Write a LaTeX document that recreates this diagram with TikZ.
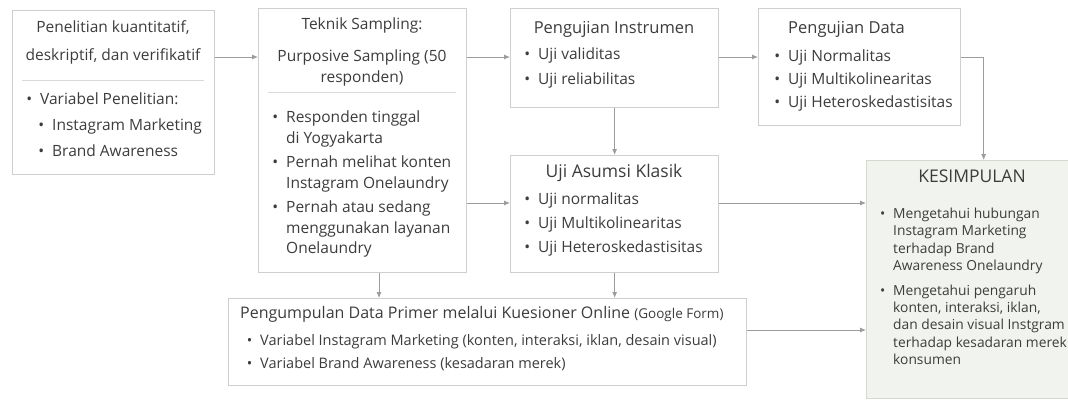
\documentclass[tikz,border=0pt]{standalone}
\usepackage{fontspec}
\setmainfont{Open Sans}
\usetikzlibrary{positioning,arrows.meta}

\definecolor{linegray}{HTML}{CFCFCF}
\definecolor{txtgray}{HTML}{3C3C3C}
\definecolor{arrgray}{HTML}{9C9C9C}
\definecolor{kesfill}{HTML}{F1F4EE}
\definecolor{kesline}{HTML}{D3D9CE}

\newcommand{\bt}{\llap{\textbullet\hspace{8pt}}}

\begin{document}
\begin{tikzpicture}[x=1pt,y=-1pt,
    box/.style={draw=linegray,line width=1.3pt,anchor=north west,inner sep=0pt},
    txt/.style={text=txtgray,inner sep=0pt,font=\fontsize{15.5}{20.5}\selectfont},
    head/.style={txt,align=center,anchor=north,font=\fontsize{16.5}{20.5}\selectfont},
    body/.style={txt,align=left,anchor=north west},
    arr/.style={draw=arrgray,line width=0.8pt,-{Latex[length=6pt,width=5pt]}},
    divider/.style={draw=linegray!80,line width=1pt}]

    \useasboundingbox (0,0) rectangle (1068,400);
    \clip (0,0) rectangle (1068,400);

    % kotak-kotak
    \node[box,minimum width=202pt,minimum height=164pt] (b1) at (12,10) {};
    \node[box,minimum width=208pt,minimum height=264pt] (b2) at (258,8) {};
    \node[box,minimum width=208pt,minimum height=99pt] (b3) at (510,8) {};
    \node[box,minimum width=202pt,minimum height=117pt] (b4) at (758,8) {};
    \node[box,minimum width=208pt,minimum height=117pt] (b5) at (510,155) {};
    \node[box,minimum width=518pt,minimum height=87pt] (b6) at (228,298) {};
    \node[box,draw=kesline,fill=kesfill,minimum width=234pt,minimum height=238pt] (b7) at (866,160) {};

    \draw[divider] (22,80) -- (204,80);
    \draw[divider] (268,92) -- (456,92);

    % isi
    \node[head,font=\fontsize{15.5}{20.5}\selectfont] (t1) at (113,20) {Penelitian kuantitatif,\\[7.5pt]deskriptif, dan verifikatif};
    \node[body] (i1) at (40,93) {\bt Variabel Penelitian:\\[5.5pt]\hspace*{12pt}\bt Instagram Marketing\\[5.5pt]\hspace*{12pt}\bt Brand Awareness};

    \node[head,font=\fontsize{15.5}{20.5}\selectfont] (t2) at (362,18) {Teknik Sampling:\\[11.5pt]Purposive Sampling (50\\responden)};
    \node[body] (i2) at (286,111) {\bt Responden tinggal\\di Yogyakarta\\[4pt]\bt Pernah melihat konten\\Instagram Onelaundry\\[4pt]\bt Pernah atau sedang\\menggunakan layanan\\Onelaundry};

    \node[head] (t3) at (614,21) {Pengujian Instrumen};
    \node[body] (i3) at (538,48) {\bt Uji validitas\\[4.5pt]\bt Uji reliabilitas};

    \node[head,anchor=north west] (t4) at (788,21) {Pengujian Data};
    \node[body] (i4) at (788,50) {\bt Uji Normalitas\\[2.5pt]\bt Uji Multikolinearitas\\[2.5pt]\bt Uji Heteroskedastisitas};

    \node[head,font=\fontsize{17.5}{20.5}\selectfont] (t5) at (614,164) {Uji Asumsi Klasik};
    \node[body] (i5) at (538,193) {\bt Uji normalitas\\[3.5pt]\bt Uji Multikolinearitas\\[3.5pt]\bt Uji Heteroskedastisitas};

    \node[head,anchor=north west,font=\fontsize{16}{20}\selectfont] (t6) at (240,306) {Pengumpulan Data Primer melalui Kuesioner Online {\fontsize{13.5}{16}\selectfont(Google Form)}};
    \node[body,font=\fontsize{14.5}{20}\selectfont] (i6) at (260,334) {\bt Variabel Instagram Marketing (konten, interaksi, iklan, desain visual)\\[3pt]\bt Variabel Brand Awareness (kesadaran merek)};

    \node[head,font=\fontsize{17.5}{20}\selectfont] (t7) at (972,170) {KESIMPULAN};
    \node[body,font=\fontsize{13.8}{17.3}\selectfont] (i7) at (893,208) {\bt Mengetahui hubungan\\Instagram Marketing\\terhadap Brand\\Awareness Onelaundry\\[7.5pt]\bt Mengetahui pengaruh\\konten, interaksi, iklan,\\dan desain visual Instgram\\terhadap kesadaran merek\\konsumen};

    % panah
    \coordinate (r1) at (0,57);
    \coordinate (r2) at (0,203);
    \coordinate (r3) at (0,330);
    \coordinate (d1) at (379,0);
    \draw[arr] (b1.east |- r1) -- (b2.west |- r1);
    \draw[arr] (b2.east |- r1) -- (b3.west |- r1);
    \draw[arr] (b3.east |- r1) -- (b4.west |- r1);
    \draw[arr] (b3.south) -- (b5.north);
    \draw[arr] (b2.east |- r2) -- (b5.west |- r2);
    \draw[arr] (b4.east |- r1) -| (b7.north);
    \draw[arr] (b5.east |- r2) -- (b7.west |- r2);
    \draw[arr] (b6.east |- r3) -- (b7.west |- r3);
    \draw[arr] (b2.south -| d1) -- (b6.north -| d1);
    \draw[arr] (b5.south) -- (b6.north -| b5.south);
\end{tikzpicture}
\end{document}
